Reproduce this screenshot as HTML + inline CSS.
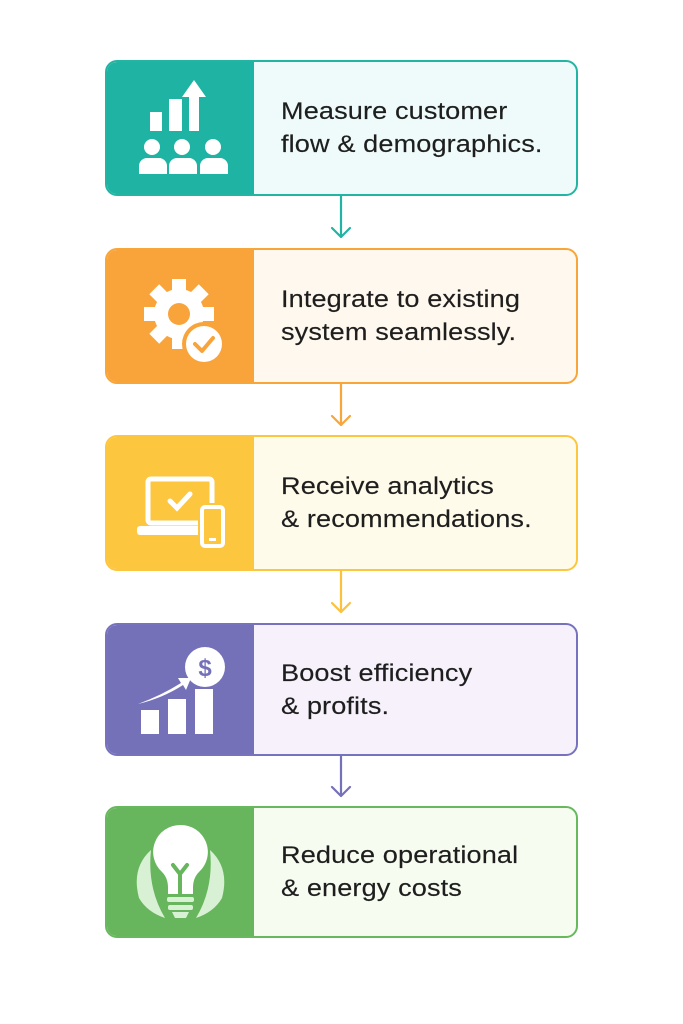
<!DOCTYPE html>
<html><head><meta charset="utf-8"><style>
body{margin:0;width:683px;height:1024px;background:#fff;position:relative;font-family:"Liberation Sans",sans-serif;overflow:hidden}
.box{position:absolute;left:105px;width:473px;border:2px solid;border-radius:12px;overflow:hidden;box-sizing:border-box}
.ic{position:absolute;left:0;top:0;bottom:0;width:147px}
.ic svg{position:absolute;left:0;top:0;width:147px;height:100%}
.tx{position:absolute;left:174px;top:0;bottom:0;display:flex;align-items:center;font-size:24px;line-height:33px;color:#1e1e1e;letter-spacing:0.1px;-webkit-text-stroke:0.15px #1e1e1e;transform:scaleX(1.13);transform-origin:0 50%;white-space:nowrap}
.ar{position:absolute;left:0;top:0}
</style></head><body>

<div class="box" style="top:60px;height:136px;border-color:#23b4a4;background:#effbfa">
 <div class="ic" style="background:#1fb3a3"><svg viewBox="0 0 147 132">
  <g fill="#fff">
   <rect x="43" y="50" width="12" height="19"/><rect x="62" y="37" width="13" height="32"/>
   <rect x="82" y="33" width="10" height="36"/><polygon points="75,35 87,18 99,35"/>
   <circle cx="45" cy="85" r="8"/><circle cx="75" cy="85" r="8"/><circle cx="106" cy="85" r="8"/>
   <path d="M32 112v-8a8 8 0 0 1 8-8h12a8 8 0 0 1 8 8v8z"/><path d="M62 112v-8a8 8 0 0 1 8-8h12a8 8 0 0 1 8 8v8z"/><path d="M93 112v-8a8 8 0 0 1 8-8h12a8 8 0 0 1 8 8v8z"/>
  </g></svg></div>
 <div class="tx">Measure customer<br>flow &amp; demographics.</div>
</div>

<div class="box" style="top:248px;height:136px;border-color:#f8a53a;background:#fff8ee">
 <div class="ic" style="background:#f9a43a"><svg viewBox="0 0 147 132">
  <g fill="#fff">
   <circle cx="72" cy="64" r="25"/>
   <g transform="translate(72 64)">
    <rect x="-7" y="-35" width="14" height="14"/><rect x="-7" y="21" width="14" height="14"/>
    <rect x="-35" y="-7" width="14" height="14"/><rect x="21" y="-7" width="14" height="14"/>
    <g transform="rotate(45)"><rect x="-7" y="-35" width="14" height="14"/><rect x="-7" y="21" width="14" height="14"/><rect x="-35" y="-7" width="14" height="14"/><rect x="21" y="-7" width="14" height="14"/></g>
   </g>
  </g>
  <circle cx="72" cy="64" r="11" fill="#f9a43a"/>
  <circle cx="97" cy="94" r="22" fill="#f9a43a"/>
  <circle cx="97" cy="94" r="18" fill="#fff"/>
  <path d="M88 94l7 7 11-13" stroke="#f9a43a" stroke-width="4" fill="none" stroke-linecap="round" stroke-linejoin="round"/>
 </svg></div>
 <div class="tx">Integrate to existing<br>system seamlessly.</div>
</div>

<div class="box" style="top:435px;height:136px;border-color:#fcc640;background:#fffbea">
 <div class="ic" style="background:#fdc63f"><svg viewBox="0 0 147 132">
  <rect x="41" y="42" width="64" height="44" rx="3" fill="none" stroke="#fff" stroke-width="5"/>
  <rect x="30" y="89" width="70" height="9" rx="3" fill="#fff"/>
  <path d="M63 64l7 7 13-14" stroke="#fff" stroke-width="5" fill="none" stroke-linecap="round"/>
  <rect x="91" y="66" width="29" height="47" rx="5" fill="#fdc63f"/>
  <rect x="95" y="70" width="21" height="39" rx="3" fill="none" stroke="#fff" stroke-width="4"/>
  <rect x="102" y="101" width="7" height="3" fill="#fff"/>
 </svg></div>
 <div class="tx">Receive analytics<br>&amp; recommendations.</div>
</div>

<div class="box" style="top:623px;height:133px;border-color:#7772bd;background:#f6f1fb">
 <div class="ic" style="background:#7571b9"><svg viewBox="0 0 147 129">
  <g fill="#fff">
   <rect x="34" y="85" width="18" height="24"/><rect x="61" y="74" width="18" height="35"/><rect x="88" y="64" width="18" height="45"/>
   <path d="M31 79Q55 70 74 58l-3-5 13 0-5 12-3-5Q56 73 31 79z"/>
   <circle cx="98" cy="42" r="20"/>
  </g>
  <text x="98" y="51" text-anchor="middle" font-family="Liberation Sans" font-weight="bold" font-size="24" fill="#7571b9">$</text>
 </svg></div>
 <div class="tx">Boost efficiency<br>&amp; profits.</div>
</div>

<div class="box" style="top:806px;height:132px;border-color:#68b85e;background:#f6fcef">
 <div class="ic" style="background:#67b55d"><svg viewBox="0 0 147 128">
  <path d="M44 42Q24 60 32 90q8 14 26 20Q40 80 44 42z" fill="#d8f0d3"/>
  <path d="M103 42Q123 60 115 90q-8 14-26 20Q107 80 103 42z" fill="#d8f0d3"/>
  <path d="M73 17a27 27 0 0 0-18 47c4 4 6 9 6 16v6h25v-6c0-7 2-12 6-16a27 27 0 0 0-19-47z" fill="#fff"/>
  <rect x="60" y="89" width="27" height="5" rx="2" fill="#d8f0d3"/>
  <rect x="61" y="97" width="25" height="5" rx="2" fill="#d8f0d3"/>
  <path d="M65 104h17l-3 6h-11z" fill="#d8f0d3"/>
  <path d="M73 85V66m-7-9l7 9 7-9" stroke="#67b55d" stroke-width="4" fill="none" stroke-linecap="round"/>
 </svg></div>
 <div class="tx">Reduce operational<br>&amp; energy costs</div>
</div>

<svg class="ar" width="683" height="1024" viewBox="0 0 683 1024">
 <g fill="none" stroke-width="2.2" stroke-linecap="round" stroke-linejoin="round">
  <path d="M341 196V237M332 228l9 9 9-9" stroke="#22b3a3"/>
  <path d="M341 384V425M332 416l9 9 9-9" stroke="#f8a53a"/>
  <path d="M341 571V612M332 603l9 9 9-9" stroke="#fcc23e"/>
  <path d="M341 756V796M332 787l9 9 9-9" stroke="#7571b9"/>
 </g>
</svg>
</body></html>
